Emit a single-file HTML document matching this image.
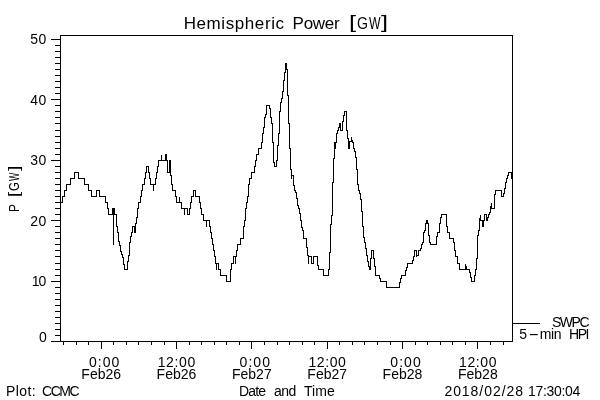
<!DOCTYPE html>
<html><head><meta charset="utf-8"><title>Hemispheric Power [GW]</title>
<style>
html,body{margin:0;padding:0;background:#fff;}
body{width:600px;height:400px;overflow:hidden;}
svg{display:block;position:absolute;left:0;top:0;}
body{position:relative;}
.tgw,.ygw{position:absolute;left:0;top:0;width:0;height:0;font-family:"Liberation Sans",sans-serif;color:#000;white-space:nowrap;}
.tgw{font-size:17px;}
.ygw{font-size:14px;transform:translate(18.6px,212px) rotate(-90deg);transform-origin:0 0;}
.tgw span,.ygw span{position:absolute;display:block;line-height:1;transform-origin:0 0;}
.leg{position:absolute;left:519.3px;top:326.85px;font:14px/14px "Liberation Sans",sans-serif;color:#000;white-space:nowrap;}
.leg span{display:inline-block;vertical-align:baseline;}
.leg .a{width:8.6px;}
.leg .b{width:11.9px;text-align:center;transform:scaleX(2.3);transform-origin:center;}
.leg .c{letter-spacing:-0.4px;}
text{font-family:"Liberation Sans",sans-serif;fill:#000;stroke:none;}
</style></head><body>
<svg width="600" height="400" viewBox="0 0 600 400">
<rect width="600" height="400" fill="#fff"/>
<path d="M60.5 35.5H512.5V341.5H60.5ZM60.5 341.5H51.0M60.5 335.5H55.0M60.5 329.5H55.0M60.5 323.5H55.0M60.5 317.5H55.0M60.5 311.5H55.0M60.5 305.5H55.0M60.5 299.5H55.0M60.5 293.5H55.0M60.5 287.5H55.0M60.5 281.5H51.0M60.5 275.5H55.0M60.5 269.5H55.0M60.5 263.5H55.0M60.5 256.5H55.0M60.5 250.5H55.0M60.5 244.5H55.0M60.5 238.5H55.0M60.5 232.5H55.0M60.5 226.5H55.0M60.5 220.5H51.0M60.5 214.5H55.0M60.5 208.5H55.0M60.5 202.5H55.0M60.5 196.5H55.0M60.5 190.5H55.0M60.5 184.5H55.0M60.5 178.5H55.0M60.5 172.5H55.0M60.5 166.5H55.0M60.5 160.5H51.0M60.5 154.5H55.0M60.5 148.5H55.0M60.5 142.5H55.0M60.5 136.5H55.0M60.5 130.5H55.0M60.5 123.5H55.0M60.5 117.5H55.0M60.5 111.5H55.0M60.5 105.5H55.0M60.5 99.5H51.0M60.5 93.5H55.0M60.5 87.5H55.0M60.5 81.5H55.0M60.5 75.5H55.0M60.5 69.5H55.0M60.5 63.5H55.0M60.5 57.5H55.0M60.5 51.5H55.0M60.5 45.5H55.0M60.5 39.5H51.0M63.5 341.5V344.7M76.5 341.5V344.7M88.5 341.5V344.7M101.5 341.5V349.0M113.5 341.5V344.7M126.5 341.5V344.7M138.5 341.5V344.7M151.5 341.5V344.7M164.5 341.5V344.7M176.5 341.5V349.0M189.5 341.5V344.7M201.5 341.5V344.7M214.5 341.5V344.7M226.5 341.5V344.7M239.5 341.5V344.7M251.5 341.5V349.0M264.5 341.5V344.7M277.5 341.5V344.7M289.5 341.5V344.7M302.5 341.5V344.7M314.5 341.5V344.7M327.5 341.5V349.0M339.5 341.5V344.7M352.5 341.5V344.7M364.5 341.5V344.7M377.5 341.5V344.7M390.5 341.5V344.7M402.5 341.5V349.0M415.5 341.5V344.7M427.5 341.5V344.7M440.5 341.5V344.7M452.5 341.5V344.7M465.5 341.5V344.7M477.5 341.5V349.0M490.5 341.5V344.7M503.5 341.5V344.7M512.5 323.5H540" fill="none" stroke="#000" stroke-width="1" shape-rendering="crispEdges"/>
<path d="M60.5 202.5H62.5V196.5H64.5V190.5H66.5V184.5H70.5V178.5H74.5V172.5H78.5V178.5H84.5V184.5H88.5V190.5H91.5V196.5H96.5V190.5H99.5V196.5H105.5V202.5H107.5V208.5H108.5V214.5H112.5V208.5H113.5V244.5H113.5V208.5H114.5V214.5H116.5V226.5H117.5V232.5H118.5V241.5H119.5V245.5H120.5V251.5H121.5V254.5H122.5V257.5H123.5V264.5H124.5V269.5H127.5V261.5H128.5V255.5H129.5V242.5H130.5V236.5H131.5V232.5H132.5V226.5H134.5V232.5H135.5V223.5H136.5V217.5H137.5V208.5H138.5V202.5H140.5V196.5H141.5V190.5H142.5V184.5H144.5V178.5H145.5V172.5H146.5V166.5H148.5V172.5H149.5V178.5H150.5V184.5H153.5V190.5H153.5V184.5H155.5V178.5H156.5V172.5H157.5V166.5H158.5V160.5H161.5V154.5H161.5V160.5H165.5V154.5H166.5V160.5H167.5V172.5H169.5V160.5H170.5V175.5H171.5V184.5H172.5V190.5H175.5V196.5H176.5V202.5H179.5V196.5H179.5V202.5H181.5V208.5H184.5V214.5H184.5V208.5H187.5V214.5H189.5V208.5H190.5V202.5H191.5V196.5H193.5V190.5H195.5V196.5H199.5V202.5H200.5V208.5H201.5V214.5H203.5V220.5H206.5V226.5H206.5V220.5H209.5V226.5H210.5V232.5H211.5V238.5H212.5V244.5H213.5V250.5H214.5V256.5H215.5V263.5H216.5V269.5H216.5V263.5H218.5V269.5H220.5V275.5H226.5V281.5H230.5V275.5H230.5V269.5H231.5V263.5H233.5V256.5H235.5V263.5H235.5V256.5H236.5V250.5H237.5V244.5H240.5V238.5H243.5V226.5H244.5V220.5H245.5V208.5H246.5V202.5H247.5V196.5H248.5V184.5H249.5V178.5H251.5V172.5H254.5V166.5H255.5V160.5H256.5V154.5H258.5V148.5H261.5V142.5H262.5V133.5H263.5V127.5H264.5V117.5H265.5V114.5H266.5V105.5H269.5V108.5H270.5V117.5H271.5V123.5H272.5V142.5H273.5V162.5H274.5V166.5H276.5V160.5H277.5V145.5H278.5V133.5H279.5V111.5H280.5V102.5H281.5V98.5H282.5V91.5H283.5V80.5H284.5V72.5H285.5V63.5H286.5V69.5H287.5V95.5H288.5V123.5H289.5V148.5H290.5V169.5H291.5V178.5H291.5V175.5H293.5V185.5H294.5V190.5H295.5V192.5H296.5V198.5H297.5V205.5H298.5V208.5H299.5V213.5H300.5V220.5H301.5V227.5H302.5V230.5H303.5V238.5H306.5V247.5H307.5V255.5H308.5V263.5H308.5V256.5H311.5V263.5H313.5V256.5H317.5V265.5H318.5V269.5H323.5V275.5H328.5V269.5H329.5V252.5H330.5V224.5H331.5V215.5H332.5V182.5H333.5V158.5H334.5V142.5H335.5V148.5H335.5V142.5H336.5V133.5H337.5V130.5H338.5V127.5H339.5V123.5H340.5V130.5H342.5V121.5H343.5V115.5H344.5V111.5H346.5V130.5H347.5V138.5H348.5V148.5H349.5V141.5H351.5V136.5H351.5V140.5H352.5V142.5H353.5V148.5H354.5V151.5H355.5V157.5H356.5V169.5H357.5V184.5H358.5V190.5H359.5V193.5H360.5V199.5H361.5V211.5H362.5V226.5H363.5V237.5H364.5V242.5H365.5V248.5H366.5V255.5H367.5V261.5H368.5V266.5H369.5V269.5H370.5V258.5H371.5V250.5H373.5V258.5H374.5V266.5H375.5V275.5H379.5V278.5H380.5V281.5H386.5V287.5H399.5V282.5H400.5V278.5H401.5V275.5H405.5V270.5H406.5V267.5H407.5V263.5H412.5V260.5H413.5V256.5H414.5V250.5H416.5V256.5H416.5V255.5H418.5V250.5H420.5V248.5H421.5V244.5H422.5V242.5H423.5V232.5H424.5V230.5H425.5V223.5H426.5V220.5H427.5V223.5H428.5V235.5H429.5V242.5H430.5V244.5H436.5V236.5H437.5V232.5H439.5V223.5H440.5V217.5H441.5V214.5H446.5V217.5H446.5V226.5H447.5V232.5H449.5V238.5H453.5V242.5H454.5V250.5H455.5V256.5H457.5V263.5H459.5V269.5H465.5V263.5H465.5V266.5H466.5V269.5H469.5V272.5H470.5V277.5H471.5V281.5H474.5V275.5H475.5V269.5H476.5V258.5H477.5V235.5H478.5V230.5H479.5V218.5H480.5V214.5H480.5V220.5H482.5V226.5H483.5V220.5H484.5V214.5H486.5V220.5H487.5V217.5H488.5V214.5H489.5V212.5H490.5V206.5H491.5V202.5H491.5V208.5H494.5V202.5H494.5V194.5H495.5V190.5H501.5V196.5H503.5V193.5H504.5V188.5H505.5V182.5H506.5V178.5H507.5V175.5H508.5V172.5H511.5V178.5H511.5V172.5H512.5" fill="none" stroke="#000" stroke-width="1" shape-rendering="crispEdges" stroke-linejoin="miter"/>
<text x="183.7" y="29.0" font-size="17" text-anchor="start" textLength="100.3" lengthAdjust="spacing">Hemispheric</text>
<text x="292.6" y="29.0" font-size="17" text-anchor="start" textLength="47.0" lengthAdjust="spacing">Power</text>
<text x="30.3" y="44.4" font-size="14" text-anchor="start" textLength="16.0" lengthAdjust="spacing">50</text>
<text x="30.3" y="104.8" font-size="14" text-anchor="start" textLength="16.0" lengthAdjust="spacing">40</text>
<text x="30.3" y="165.3" font-size="14" text-anchor="start" textLength="16.0" lengthAdjust="spacing">30</text>
<text x="30.3" y="225.7" font-size="14" text-anchor="start" textLength="16.0" lengthAdjust="spacing">20</text>
<text x="31.8" y="286.2" font-size="14" text-anchor="start" textLength="14.5" lengthAdjust="spacing">10</text>
<text x="38.9" y="341.5" font-size="14" text-anchor="start" textLength="7.0" lengthAdjust="spacing">0</text>
<text x="89.0" y="366.9" font-size="14" text-anchor="start" textLength="30.4" lengthAdjust="spacing">0:00</text>
<text x="81.3" y="379.0" font-size="14" text-anchor="start" textLength="39.8" lengthAdjust="spacing">Feb26</text>
<text x="157.7" y="366.9" font-size="14" text-anchor="start" textLength="37.5" lengthAdjust="spacing">12:00</text>
<text x="156.6" y="379.0" font-size="14" text-anchor="start" textLength="39.8" lengthAdjust="spacing">Feb26</text>
<text x="239.6" y="366.9" font-size="14" text-anchor="start" textLength="30.4" lengthAdjust="spacing">0:00</text>
<text x="231.9" y="379.0" font-size="14" text-anchor="start" textLength="39.8" lengthAdjust="spacing">Feb27</text>
<text x="308.4" y="366.9" font-size="14" text-anchor="start" textLength="37.5" lengthAdjust="spacing">12:00</text>
<text x="307.3" y="379.0" font-size="14" text-anchor="start" textLength="39.8" lengthAdjust="spacing">Feb27</text>
<text x="390.3" y="366.9" font-size="14" text-anchor="start" textLength="30.4" lengthAdjust="spacing">0:00</text>
<text x="382.6" y="379.0" font-size="14" text-anchor="start" textLength="39.8" lengthAdjust="spacing">Feb28</text>
<text x="459.0" y="366.9" font-size="14" text-anchor="start" textLength="37.5" lengthAdjust="spacing">12:00</text>
<text x="457.9" y="379.0" font-size="14" text-anchor="start" textLength="39.8" lengthAdjust="spacing">Feb28</text>
<text x="6.0" y="396.3" font-size="14" text-anchor="start" textLength="29.6" lengthAdjust="spacing">Plot:</text>
<text x="42.0" y="396.3" font-size="14" text-anchor="start" textLength="37.6" lengthAdjust="spacing">CCMC</text>
<text x="239.0" y="396.3" font-size="14" text-anchor="start" textLength="27.0" lengthAdjust="spacing">Date</text>
<text x="274.0" y="396.3" font-size="14" text-anchor="start" textLength="22.3" lengthAdjust="spacing">and</text>
<text x="304.0" y="396.3" font-size="14" text-anchor="start" textLength="30.8" lengthAdjust="spacing">Time</text>
<text x="444.4" y="396.3" font-size="14" text-anchor="start" textLength="78.6" lengthAdjust="spacing">2018/02/28</text>
<text x="528.0" y="396.3" font-size="14" text-anchor="start" textLength="52.2" lengthAdjust="spacing">17:30:04</text>
<text x="552.0" y="326.7" font-size="14" text-anchor="start" textLength="37.5" lengthAdjust="spacing">SWPC</text>
<text x="569.0" y="338.7" font-size="14" text-anchor="start" textLength="20.5" lengthAdjust="spacing">HPI</text>
</svg>
<div class="tgw"><span style="left:349px;top:13.1px;font-size:18.8px;transform:scaleX(1.35)">[</span><span style="left:357.1px;top:14.6px;transform:scaleX(0.83)">G</span><span style="left:368.95px;top:14.6px;transform:scaleX(0.72)">W</span><span style="left:381.26px;top:13.1px;font-size:18.8px;transform:scaleX(1.35)">]</span></div>
<div class="ygw"><span style="left:0.03px;top:-11.85px;transform:scaleX(0.845)">P</span> <span style="left:14.65px;top:-12.7px;font-size:15px;transform:scaleX(1.26)">[</span><span style="left:21.4px;top:-11.85px;transform:scaleX(0.82)">G</span><span style="left:30.95px;top:-11.85px;transform:scaleX(0.63)">W</span><span style="left:40.9px;top:-12.7px;font-size:15px;transform:scaleX(1.26)">]</span></div>
<div class="leg"><span class="a">5</span><span class="b">-</span><span class="c">min</span></div>
</body></html>
